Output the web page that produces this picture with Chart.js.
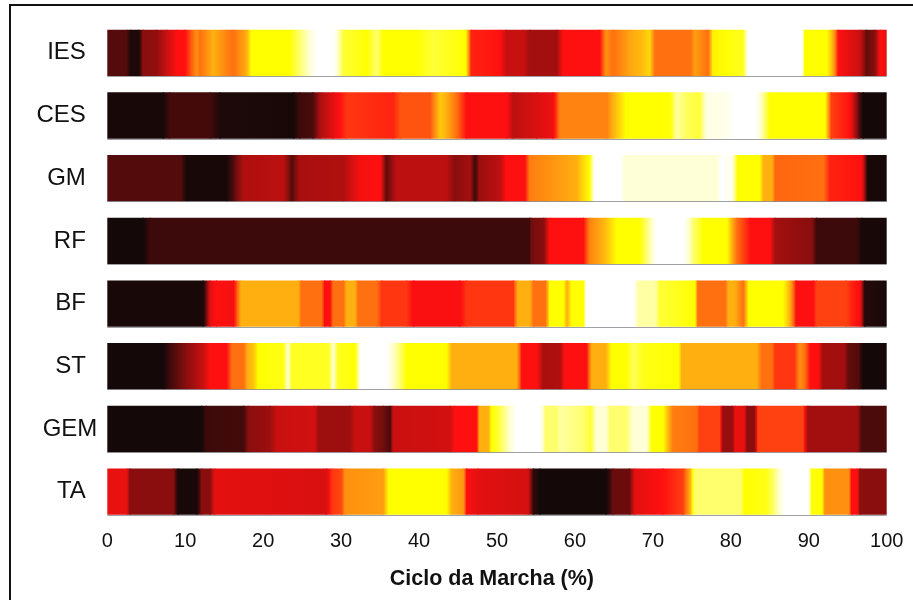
<!DOCTYPE html>
<html>
<head>
<meta charset="utf-8">
<title>Ciclo da Marcha</title>
<script src="https://cdn.jsdelivr.net/npm/chart.js@4"></script>
<style>
    body { margin: 0; background: #fff; }
    #frame { position: absolute; left: 9px; top: 4px; right: 0; bottom: 0; border-top: 2px solid #111; border-left: 2px solid #111; }
    #ChartMarcha { position: absolute; left: 0; top: 0; }
</style>
</head>
<body>
<div id="frame"></div>
<canvas id="ChartMarcha" width="913" height="600"></canvas>
<script>
const muscles = ['IES', 'CES', 'GM', 'RF', 'BF', 'ST', 'GEM', 'TA'];
const ticksX = [0, 10, 20, 30, 40, 50, 60, 70, 80, 90, 100];

// position in the cycle (%) and activation level (0 black .. 10 white)
const iesAt = [0, 2.5, 3, 4, 4.6, 6.3, 7.6, 9, 10, 11.5, 11.9, 13.6, 15.3, 16.2, 17.9, 18.5, 23.4, 24.7, 26, 26.9, 29, 30.3, 33.3, 34.6, 35.4, 39.7, 41.8, 46, 46.7, 50.4, 51.2, 53.4, 54.2, 57.7, 58.5, 63.2, 64, 64.9, 67, 68.8, 69.6, 70.3, 74.8, 75.4, 77.1, 77.7, 81.6, 82.3, 89.1, 89.5, 92.3, 93.1, 93.8, 96.6, 97.4, 98.5, 99.2, 100];
const iesLevel = [1.3, 1.3, 0.3, 0.3, 2, 2.1, 3, 4, 4, 5.5, 5, 6, 5.3, 5, 6, 7, 7, 8, 9, 10, 10, 7.5, 7, 8, 7, 7, 7.5, 7, 4.2, 4, 3, 3, 2.4, 2.4, 4, 4, 5.5, 5, 5.8, 6.2, 6.5, 5, 5, 5.7, 5, 6.8, 7.3, 10, 10, 7, 7, 6, 4, 3, 1.5, 2, 4, 3.5];

const cesAt = [0, 7.2, 8, 13.2, 14.5, 23.9, 24.7, 26.4, 27.3, 29, 30.7, 36.7, 37.6, 41.4, 42.7, 43.5, 44.8, 46.1, 51.2, 52.1, 55.1, 57.2, 58.1, 64.1, 64.9, 66.6, 72.2, 73.1, 74.4, 76, 76.9, 79.5, 80.3, 83.1, 84.4, 85, 92.1, 92.9, 95.3, 96.4, 97, 100];
const cesLevel = [0.2, 0.2, 1.1, 1.1, 0.3, 0.2, 1, 1.2, 2.5, 3.5, 4.4, 4.2, 4.7, 4.7, 6.3, 6, 5, 4, 4, 2.8, 3.3, 3.7, 5.3, 5.3, 6, 7, 7, 8.5, 7.8, 7.5, 9.3, 9.5, 10, 10, 8, 7, 7, 4.5, 4, 1.5, 0.1, 0.1];

const gmAt = [0, 9.5, 10.2, 15.3, 16.2, 17.5, 22.6, 23.7, 24.7, 30.3, 32.4, 35, 35.8, 37.1, 43.5, 44.6, 46.5, 47.2, 47.8, 50.4, 51.2, 53.6, 54.2, 60.2, 61.9, 62.6, 65.8, 66.4, 78.2, 78.8, 80.1, 80.9, 83.7, 84.2, 85.3, 85.7, 91.9, 92.7, 96.8, 97.6, 100];
const gmLevel = [1.3, 1.3, 0.2, 0.2, 1.3, 2.6, 2.8, 1.3, 2.5, 2.6, 3.8, 4, 1.4, 2.8, 2.8, 2, 2.4, 1, 2.3, 2.8, 4, 4, 5.2, 6, 7, 10, 10, 9, 9, 10, 9.5, 7, 7, 6, 6, 4.9, 5, 4.2, 4, 0.2, 0.2];

const rfAt = [0, 4.6, 5.5, 54.2, 54.4, 56, 56.8, 61.1, 61.9, 64, 65.4, 68.3, 69.6, 70.5, 73.9, 75.2, 76.5, 79.5, 80.8, 82.5, 85, 85.7, 90.4, 91, 96.2, 96.8, 100];
const rfLevel = [0.1, 0.1, 1, 1, 1.7, 2, 4, 4, 5.3, 6.2, 7, 7, 8.5, 10, 10, 8, 7, 7, 5, 4, 4, 2.4, 2, 1, 1, 0.2, 0.2];

const bfAt = [0, 12.3, 13.2, 14, 16.2, 17.2, 24.5, 24.9, 27.5, 27.9, 28.6, 29, 30.3, 30.7, 31.8, 32.2, 34.6, 35.2, 38.4, 39.3, 45.2, 46.1, 52.1, 52.7, 54.2, 54.7, 56.2, 56.8, 58.5, 59, 59.6, 61.1, 61.5, 67.5, 68.1, 70.3, 70.9, 75.4, 75.8, 79.3, 79.7, 80.5, 81.6, 82.3, 86.7, 87.6, 88.4, 90.6, 91, 94.8, 96.6, 97.2, 100];
const bfLevel = [0.2, 0.2, 3.5, 4, 3.8, 6, 6, 5, 5, 4, 4, 5, 5, 6, 6, 5, 5, 4.4, 4.4, 3.9, 3.9, 4.4, 4.4, 6, 6, 5, 5, 7, 7, 6, 7, 7, 10, 10, 8.5, 8.5, 7.5, 7, 5, 5, 6, 6, 5, 7, 7, 6, 4, 4, 4.5, 4.5, 3.8, 0.5, 0.2];

const stAt = [0, 7.2, 8, 10.2, 12.3, 13.2, 15.3, 16, 17.5, 18, 18.7, 19.4, 22.6, 23.2, 23.7, 28.4, 29, 29.6, 31.8, 32.6, 35.8, 36.5, 37.6, 38.4, 43.5, 44.2, 52.5, 53.2, 55.1, 55.9, 58.1, 58.7, 61.5, 62.2, 64, 64.7, 66.6, 67.5, 68.8, 73.3, 73.7, 83.3, 84, 85.3, 85.7, 88.2, 88.9, 89.5, 90.2, 91.2, 91.8, 94.5, 95.1, 96.4, 97, 100];
const stLevel = [0.1, 0.1, 1, 2, 3, 4, 4, 5, 5, 6, 6.2, 7, 7.2, 9, 7.3, 7.3, 9, 7.3, 7, 10, 10, 9, 8, 7, 7, 6, 6, 4, 4, 2.5, 2.6, 4, 4, 6, 6, 7, 7, 7.8, 7.2, 7, 6, 6, 5, 5, 4.4, 4.4, 5.5, 5, 4, 4, 2.4, 2.4, 1.5, 1.3, 0.1, 0.1];

const gemAt = [0, 12.1, 12.7, 17.5, 18.1, 20.9, 21.7, 26.6, 27.1, 31.1, 31.8, 33.7, 34.3, 35.4, 36.3, 36.7, 44, 44.6, 47.4, 47.8, 48.9, 49.3, 50.2, 51.7, 52.5, 55.5, 56.2, 57.7, 58.1, 61.1, 62, 62.8, 64, 64.5, 66.6, 67.5, 69.2, 69.9, 71.3, 72.6, 75.6, 76, 78.6, 79, 80.2, 80.6, 81.7, 82.1, 83, 83.5, 89.3, 89.9, 96.2, 96.8, 100];
const gemLevel = [0.1, 0.1, 1, 1.1, 2, 2.3, 3, 3.2, 2.3, 2.3, 3, 3, 2, 1.7, 1.2, 3, 3.2, 4, 4, 6, 6, 7, 7.5, 9, 10, 10, 8, 8, 8.5, 8, 7.5, 9, 9, 8, 8, 9, 9, 7, 7, 5.2, 5, 4.5, 4.5, 2.2, 2.2, 3.6, 3.6, 2, 2, 4.5, 4.5, 2.4, 2.4, 1.2, 1.2];

const taAt = [0, 2.5, 2.9, 8.5, 9.1, 11.5, 12.1, 13.2, 13.8, 28.1, 28.8, 30.1, 30.5, 35.4, 36.1, 43.5, 44.2, 45.7, 46.1, 47.6, 54, 54.7, 55.5, 64, 64.9, 67, 67.7, 71.3, 73.9, 74.8, 75.4, 81.2, 81.8, 84.6, 85.5, 86.3, 87, 89.9, 90.4, 91.7, 92.1, 95.1, 95.5, 96.2, 96.6, 100];
const taLevel = [3.6, 3.6, 2, 2, 0.2, 0.2, 2, 2, 3.5, 3.3, 4.4, 4.6, 5.5, 5.7, 7, 7, 6, 5.6, 4, 3.5, 3.2, 0.7, 0.1, 0.1, 1.6, 1.6, 3.5, 4, 4.5, 6, 8, 8, 7, 7.2, 8, 9, 10, 10, 7, 7, 5.5, 5.5, 4, 4, 2, 2];

const rowsAt = [iesAt, cesAt, gmAt, rfAt, bfAt, stAt, gemAt, taAt];
const rowsLevel = [iesLevel, cesLevel, gmLevel, rfLevel, bfLevel, stLevel, gemLevel, taLevel];

// colour scale of the picture, one colour per whole level
const hotScale = [[16, 8, 8], [60, 10, 10], [138, 14, 14], [200, 16, 16], [255, 16, 16], [255, 112, 16], [255, 176, 16], [255, 255, 0], [255, 255, 110], [255, 255, 215], [255, 255, 255]];

function hot(level) {
    const low = Math.min(Math.floor(level), 9);
    const t = level - low;
    const a = hotScale[low];
    const b = hotScale[low + 1];
    return `rgb(${a.map((v, i) => Math.round(v + (b[i] - v) * t)).join(',')})`;
}

// every piece of a row is one floating bar, shaded from the level at its start to the level at its end
function pieceColor(context) {
    const raw = context.raw;
    const scale = context.chart.scales.x;
    if (!raw || !scale) {
        return '#000';
    }
    const x0 = scale.getPixelForValue(raw.x[0]);
    const x1 = scale.getPixelForValue(raw.x[1]);
    if (!isFinite(x0) || !isFinite(x1)) {
        return '#000';
    }
    const grad = context.chart.ctx.createLinearGradient(x0, 0, x1, 0);
    for (let s = 0; s <= 4; s++) {
        grad.addColorStop(s / 4, hot(raw.from + (raw.to - raw.from) * s / 4));
    }
    return grad;
}

const datasets = muscles.map(function (name, r) {
    const pieces = [];
    for (let i = 0; i < rowsAt[r].length - 1; i++) {
        pieces.push({
            x: [rowsAt[r][i], rowsAt[r][i + 1]],
            y: name,
            from: rowsLevel[r][i],
            to: rowsLevel[r][i + 1]
        });
    }
    return {
        label: name,
        data: pieces,
        backgroundColor: pieceColor,
        borderWidth: 0,
        inflateAmount: 0.6,
        grouped: false,
        categoryPercentage: 1,
        barPercentage: 0.72
    };
});

// thin grey line along the foot of each strip
const footLines = {
    id: 'footLines',
    afterDatasetsDraw: function (chart) {
        const c = chart.ctx;
        c.save();
        c.strokeStyle = 'rgba(120,120,130,0.7)';
        c.lineWidth = 1;
        muscles.forEach(function (name, i) {
            const y = Math.round(chart.scales.y.getPixelForValue(i) + 23) + 0.5;
            c.beginPath();
            c.moveTo(chart.scales.x.getPixelForValue(0), y);
            c.lineTo(chart.scales.x.getPixelForValue(100), y);
            c.stroke();
        });
        c.restore();
    }
};

const myChartMarcha = new Chart(document.getElementById('ChartMarcha'), {
    type: 'bar',
    data: { labels: muscles, datasets: datasets },
    plugins: [footLines],
    options: {
        indexAxis: 'y',
        responsive: false,
        animation: false,
        parsing: { xAxisKey: 'x', yAxisKey: 'y' },
        layout: { padding: { left: 0, right: 26.3, top: 21.5, bottom: 0 } },
        plugins: { legend: { display: false }, tooltip: { enabled: false } },
        scales: {
            x: {
                type: 'linear',
                min: 0,
                max: 100,
                afterFit: function (scale) { scale.height = 77; },
                afterBuildTicks: function (scale) { scale.ticks = ticksX.map(v => ({ value: v })); },
                grid: { display: false },
                border: { display: false },
                ticks: {
                    color: '#111',
                    font: { family: 'Liberation Sans', size: 20 },
                    maxRotation: 0,
                    autoSkip: false,
                    padding: -2
                },
                title: {
                    display: true,
                    // trailing gap nudges the centred title left, as in the picture
                    text: 'Ciclo da Marcha (%)\u00a0\u2009',
                    color: '#111',
                    font: { family: 'Liberation Sans', size: 21.5, weight: 'bold' },
                    padding: { top: 9, bottom: 8 }
                }
            },
            y: {
                type: 'category',
                afterFit: function (scale) { scale.width = 107.3; },
                grid: { display: false },
                border: { display: false },
                ticks: {
                    color: '#111',
                    font: { family: 'Liberation Sans', size: 24 },
                    padding: 2,
                    autoSkip: false,
                    // GEM sticks out further to the right than the other names
                    callback: function (value) {
                        const name = this.getLabelForValue(value);
                        return name === 'GEM' ? name : name + '\u00a0\u2009';
                    }
                }
            }
        }
    }
});
</script>
</body>
</html>
